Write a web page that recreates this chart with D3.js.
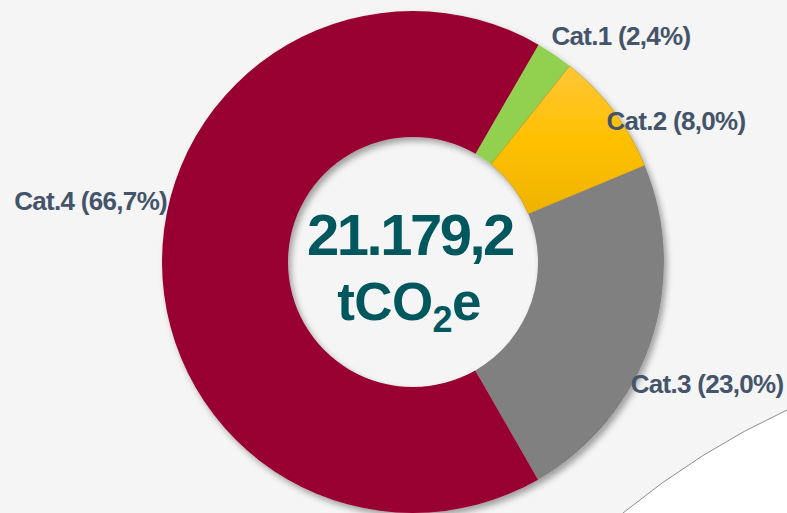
<!DOCTYPE html>
<html>
<head>
<meta charset="utf-8">
<script src="https://cdn.jsdelivr.net/npm/d3@7"></script>
<style>
  html, body { margin: 0; padding: 0; background: #f5f5f5; }
  svg { display: block; }
  text { font-family: "Liberation Sans", Arial, sans-serif; font-weight: bold; }
</style>
</head>
<body>
<div id="chart"></div>
<script>
// Data
const categories = ['Cat.1', 'Cat.2', 'Cat.3', 'Cat.4'];
const shares = [2.4, 8.0, 23.0, 66.7];
const shareLabels = ['2,4%', '8,0%', '23,0%', '66,7%'];
const totalLabel = '21.179,2';

const width = 787, height = 513;
const cx = 413, cy = 262;
const outerR = 251, innerR = 125;

// label nudges relative to the slice's outer mid point
const labelNudge = {
  'Cat.1': [-3, -10, 'start'],
  'Cat.2': [-7, 19, 'start'],
  'Cat.3': [-20, 50, 'start'],
  'Cat.4': [5, -52, 'end']
};

const color = d3.scaleOrdinal(categories, ['#92d050', 'url(#gradYellow)', '#808080', '#990033']);

const svg = d3.select('#chart').append('svg')
  .attr('width', width)
  .attr('height', height);

const defs = svg.append('defs');

// gradient in the slice's own (centred) coordinates
const grad = defs.append('linearGradient')
  .attr('id', 'gradYellow')
  .attr('gradientUnits', 'userSpaceOnUse')
  .attr('x1', 0).attr('y1', -outerR + 55)
  .attr('x2', 0).attr('y2', -10);
grad.append('stop').attr('offset', '0%').attr('stop-color', '#ffc637');
grad.append('stop').attr('offset', '40%').attr('stop-color', '#ffc000');
grad.append('stop').attr('offset', '100%').attr('stop-color', '#e6ad00');

const shadow = defs.append('filter')
  .attr('id', 'shadow')
  .attr('x', '-20%').attr('y', '-20%')
  .attr('width', '140%').attr('height', '140%');
shadow.append('feDropShadow')
  .attr('dx', 3).attr('dy', 4)
  .attr('stdDeviation', 3)
  .attr('flood-color', '#000')
  .attr('flood-opacity', 0.35);

// white corner bottom right
svg.append('path')
  .attr('d', `M${width},410 Q700,450 623,${height} L${width},${height} Z`)
  .attr('fill', '#ffffff');
svg.append('path')
  .attr('d', `M${width},410 Q700,450 623,${height}`)
  .attr('fill', 'none')
  .attr('stroke', '#8c8c8c')
  .attr('stroke-width', 1);

const pie = d3.pie()
  .sort(null)
  .value(d => d.value)
  .startAngle(30 * Math.PI / 180)
  .endAngle(30 * Math.PI / 180 + 2 * Math.PI);

const data = categories.map((c, i) => ({ cat: c, value: shares[i], label: shareLabels[i] }));
const arcs = pie(data);

const arc = d3.arc().innerRadius(innerR).outerRadius(outerR);

const g = svg.append('g')
  .attr('transform', `translate(${cx},${cy})`)
  .attr('filter', 'url(#shadow)');

g.selectAll('path')
  .data(arcs)
  .enter()
  .append('path')
  .attr('d', arc)
  .attr('fill', d => color(d.data.cat))
  .attr('stroke', d => d.data.cat === 'Cat.2' ? '#b08a10' : 'none')
  .attr('stroke-width', 0.5);

// labels
const edge = d3.arc().innerRadius(outerR).outerRadius(outerR);
svg.append('g')
  .attr('transform', `translate(${cx},${cy})`)
  .selectAll('text')
  .data(arcs)
  .enter()
  .append('text')
  .attr('x', d => edge.centroid(d)[0] + labelNudge[d.data.cat][0])
  .attr('y', d => edge.centroid(d)[1] + labelNudge[d.data.cat][1])
  .attr('text-anchor', d => labelNudge[d.data.cat][2])
  .attr('fill', '#44546a')
  .attr('font-size', 26)
  .attr('letter-spacing', -0.7)
  .text(d => `${d.data.cat} (${d.data.label})`);

// center total
const center = svg.append('g')
  .attr('transform', `translate(${cx},${cy})`)
  .attr('fill', '#00585e')
  .attr('text-anchor', 'middle');

center.append('text')
  .attr('x', -3)
  .attr('y', -7)
  .attr('font-size', 58)
  .attr('letter-spacing', -2.5)
  .text(totalLabel);

const unit = center.append('text')
  .attr('x', -4)
  .attr('y', 58)
  .attr('font-size', 53)
  .attr('letter-spacing', -0.6);
unit.append('tspan').text('tCO');
unit.append('tspan').attr('font-size', 36).attr('dy', 12).text('2');
unit.append('tspan').attr('dy', -12).text('e');
</script>
</body>
</html>
